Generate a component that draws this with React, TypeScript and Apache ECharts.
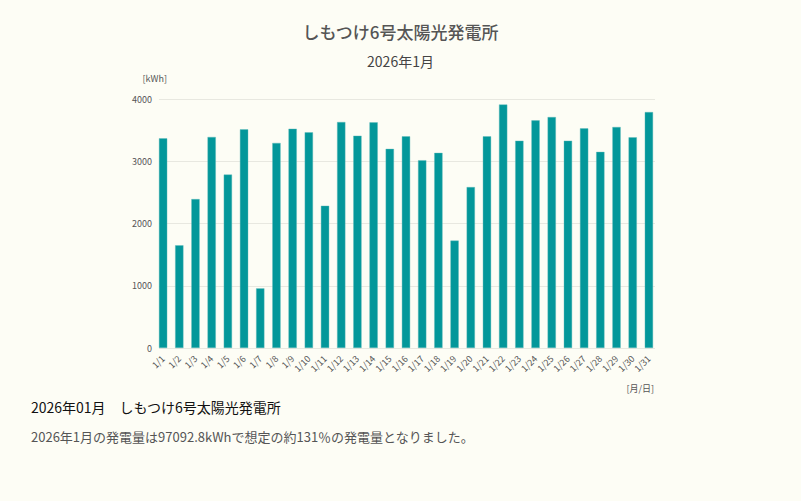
import React, { useEffect, useRef } from "react";
import * as echarts from "echarts";

const TITLE = "しもつけ6号太陽光発電所";
const SUBTITLE = "2026年1月";
const Y_NAME = "[kWh]";
const X_NAME = "[月/日]";
const FOOT_HEAD = "2026年01月\u3000しもつけ6号太陽光発電所";
const FOOT_BODY = "2026年1月の発電量は97092.8kWhで想定の約131％の発電量となりました。";

const days: string[] = [
  "1/1", "1/2", "1/3", "1/4", "1/5", "1/6", "1/7", "1/8", "1/9", "1/10",
  "1/11", "1/12", "1/13", "1/14", "1/15", "1/16", "1/17", "1/18", "1/19", "1/20",
  "1/21", "1/22", "1/23", "1/24", "1/25", "1/26", "1/27", "1/28", "1/29", "1/30", "1/31",
];

const generation: number[] = [
  3368, 1650, 2392, 3390, 2786, 3512, 958, 3294, 3522, 3465,
  2285, 3630, 3410, 3624, 3198, 3400, 3016, 3134, 1725, 2585,
  3400, 3912, 3330, 3656, 3710, 3330, 3528, 3150, 3550, 3384, 3790,
];

const yTicks = { min: 0, max: 4000, interval: 1000 };

const FONT = "'Noto Sans CJK JP', 'Noto Sans', sans-serif";
const BG = "#fdfdf5";

export default function App() {
  const ref = useRef<HTMLDivElement>(null);

  useEffect(() => {
    document.body.style.margin = "0";
    document.body.style.background = BG;
    const chart = echarts.init(ref.current!, undefined, { renderer: "svg" });
    chart.setOption({
      animation: false,
      backgroundColor: BG,
      textStyle: { fontFamily: FONT },
      title: [
        {
          text: TITLE,
          left: "center",
          top: 18,
          textStyle: { fontSize: 17, color: "#555", fontWeight: 500, fontFamily: FONT },
        },
        {
          text: SUBTITLE,
          left: "center",
          top: 49,
          textStyle: { fontSize: 14, color: "#444", fontWeight: "normal", fontFamily: FONT },
        },
      ],
      grid: [
        { left: 159, right: 146, top: 99, bottom: 153 },
        { left: 155, right: 144, top: 99, bottom: 153 },
      ],
      xAxis: [
        {
          gridIndex: 0,
          type: "category",
          data: days,
          show: false,
        },
        {
          gridIndex: 1,
          type: "category",
          data: days,
          axisLine: { show: false },
          axisTick: { show: false },
          axisLabel: { rotate: 45, fontSize: 9, color: "#555", margin: 9, interval: 0 },
        },
      ],
      yAxis: [
        {
          gridIndex: 0,
          type: "value",
          min: yTicks.min,
          max: yTicks.max,
          interval: yTicks.interval,
          name: Y_NAME,
          nameGap: 16,
          nameTextStyle: { fontSize: 9, color: "#555", align: "right", padding: [0, -8, 0, 0] },
          axisLine: { show: false },
          axisTick: { show: false },
          axisLabel: { fontSize: 9, color: "#555", margin: 7, formatter: (v: number) => String(v) },
          splitLine: { lineStyle: { color: "#e8e8e0" } },
        },
        {
          gridIndex: 1,
          type: "value",
          min: yTicks.min,
          max: yTicks.max,
          interval: yTicks.interval,
          show: false,
          splitLine: { show: false },
        },
      ],
      graphic: [
        {
          type: "text",
          right: 147,
          top: 384,
          style: { text: X_NAME, fontSize: 9, fill: "#555", fontFamily: FONT },
        },
      ],
      series: [
        {
          type: "bar",
          xAxisIndex: 1,
          yAxisIndex: 1,
          data: generation,
          barCategoryGap: "49%",
          itemStyle: { color: "#03979a", borderColor: "#5fbcbc", borderWidth: 0.4 },
        },
      ],
    });
    return () => chart.dispose();
  }, []);

  return (
    <div style={{ position: "relative", width: 801, height: 501, background: BG, fontFamily: FONT }}>
      <div ref={ref} style={{ position: "absolute", left: 0, top: 0, width: 801, height: 501 }} />
      <div style={{ position: "absolute", left: 31, top: 397, fontSize: 14, color: "#111", whiteSpace: "nowrap", lineHeight: "20px" }}>
        {FOOT_HEAD}
      </div>
      <div style={{ position: "absolute", left: 31, top: 427, fontSize: 13, color: "#555", whiteSpace: "nowrap", lineHeight: "20px" }}>
        {FOOT_BODY}
      </div>
    </div>
  );
}
